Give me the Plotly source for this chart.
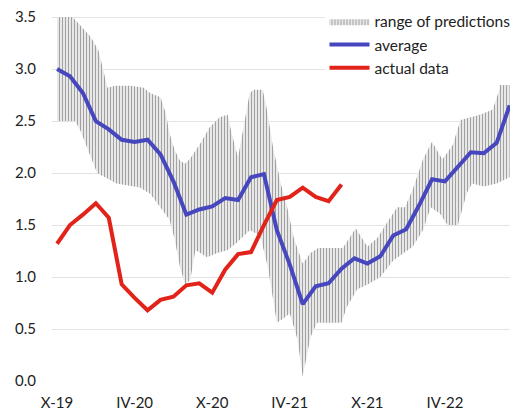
import plotly.graph_objects as go

# month index: 0 = Oct 2019
months = list(range(36))
tick_pos = [0, 6, 12, 18, 24, 30]
tick_labels = ["X-19", "IV-20", "X-20", "IV-21", "X-21", "IV-22"]

average = [3.0, 2.93, 2.77, 2.5, 2.42, 2.32, 2.3, 2.32, 2.18, 1.92,
           1.6, 1.65, 1.68, 1.76, 1.74, 1.96, 1.99, 1.45, 1.12, 0.74,
           0.91, 0.94, 1.08, 1.18, 1.13, 1.2, 1.4, 1.46, 1.69, 1.94,
           1.92, 2.06, 2.2, 2.19, 2.29, 2.65]

actual = [1.32, 1.5, 1.6, 1.71, 1.57, 0.93, 0.8, 0.68, 0.78, 0.81,
          0.92, 0.94, 0.85, 1.07, 1.22, 1.24, 1.5, 1.74, 1.77, 1.86,
          1.77, 1.73, 1.89]

# range of predictions, upper and lower edges
upper_x = [0, 1.2, 1.8, 2.6, 3.2, 3.6, 3.9, 4.5, 5.7, 6.7, 7.2, 8.0, 8.4,
           8.7, 9.1, 9.5, 9.9, 10.3, 11.1, 11.8, 12.6, 13.2, 13.5, 14.0,
           14.4, 14.9, 15.2, 15.9, 16.2, 16.7, 17.3, 17.8, 18.3, 18.8,
           19.0, 19.6, 20.2, 22.1, 23.1, 24.0, 24.8, 25.5, 26.3, 26.9,
           27.5, 28.3, 29.0, 29.8, 30.6, 31.2, 32.7, 33.7, 34.2, 34.3, 35.0]
upper = [3.5, 3.5, 3.42, 3.31, 3.18, 2.99, 2.82, 2.84, 2.84, 2.82, 2.77,
         2.73, 2.58, 2.38, 2.22, 2.12, 2.09, 2.14, 2.29, 2.44, 2.54, 2.56,
         2.38, 2.15, 2.44, 2.77, 2.8, 2.8, 2.63, 2.25, 1.9, 1.67, 1.38,
         1.19, 1.13, 1.23, 1.28, 1.28, 1.47, 1.29, 1.38, 1.52, 1.67, 1.67,
         1.84, 2.13, 2.3, 2.13, 2.27, 2.51, 2.56, 2.61, 2.8, 2.91, 2.91]

lower_x = [0, 1.4, 1.8, 3.1, 4.6, 6.4, 7.2, 8.7, 9.1, 9.5, 9.9, 10.3,
           10.7, 11.1, 11.6, 12.4, 13.2, 13.9, 14.9, 15.7, 16.3, 17.0,
           17.5, 18.0, 18.6, 19.0, 19.6, 20.1, 22.0, 22.4, 23.2, 24.2,
           25.0, 26.0, 27.5, 28.3, 28.9, 29.6, 30.2, 31.0, 31.7, 32.1,
           33.0, 34.0, 35.0]
lower = [2.5, 2.5, 2.41, 2.0, 1.9, 1.86, 1.8, 1.55, 1.36, 1.1, 0.93, 0.97,
         1.26, 1.23, 1.19, 1.23, 1.26, 1.33, 1.45, 1.4, 1.1, 0.56, 0.6,
         0.65, 0.4, 0.04, 0.42, 0.56, 0.56, 0.71, 0.88, 0.94, 1.0, 1.16,
         1.29, 1.45, 1.67, 1.61, 1.5, 1.5, 1.81, 1.9, 1.87, 1.9, 1.96]

fig = go.Figure()

fig.add_trace(go.Scatter(
    x=upper_x + lower_x[::-1],
    y=upper + lower[::-1],
    fill="toself",
    mode="lines",
    line=dict(width=0, color="rgba(0,0,0,0)"),
    fillcolor="white",
    fillpattern=dict(shape="|", fgcolor="#444444", bgcolor="white",
                     size=3, solidity=0.5),
    name="range of predictions",
    hoverinfo="skip",
))

fig.add_trace(go.Scatter(
    x=months, y=average, mode="lines",
    line=dict(color="#4646BE", width=4),
    name="average",
))

fig.add_trace(go.Scatter(
    x=months[:len(actual)], y=actual, mode="lines",
    line=dict(color="#E2231A", width=4),
    name="actual data",
))

fig.update_layout(
    width=510, height=414,
    margin=dict(l=52, r=0, t=15, b=33, autoexpand=False),
    paper_bgcolor="white",
    plot_bgcolor="white",
    font=dict(family="Lato", size=15, color="#222222"),
    showlegend=True,
    legend=dict(x=0.595, y=1.028, xanchor="left", yanchor="top",
                bgcolor="white", font=dict(size=15.5), itemwidth=40,
                traceorder="normal", tracegroupgap=0),
)

fig.update_xaxes(
    range=[-0.39, 35.03],
    tickvals=tick_pos, ticktext=tick_labels,
    showgrid=False, zeroline=False, showline=False,
    ticks="outside", ticklen=8, tickcolor="rgba(0,0,0,0)",
)
fig.update_yaxes(
    range=[0, 3.52],
    tickvals=[0, 0.5, 1, 1.5, 2, 2.5, 3, 3.5],
    tickformat=".1f",
    showgrid=True, gridcolor="#E3E3E3", gridwidth=1,
    zeroline=False, showline=False,
    ticks="outside", ticklen=12, tickcolor="rgba(0,0,0,0)",
)

fig.write_html("out.html", config={"displayModeBar": False},
               post_script="document.body.style.margin='0';")
